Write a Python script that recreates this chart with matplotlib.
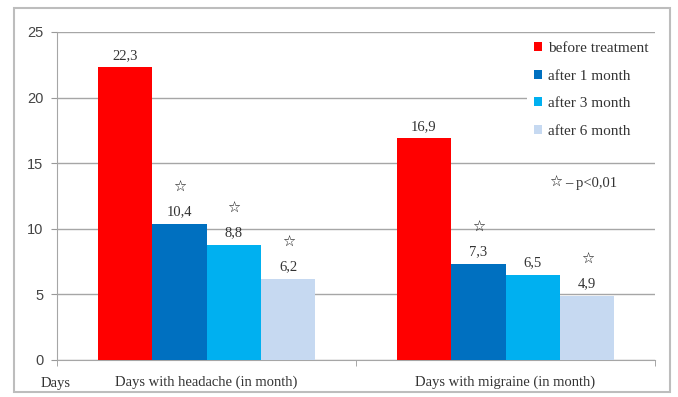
import numpy as np
import matplotlib.pyplot as plt
from matplotlib.patches import Rectangle

# data
categories = ['Days with headache (in month)', 'Days with migraine (in month)']
series = ['before treatment', 'after 1 month', 'after 3 month', 'after 6 month']
before = [22.3, 16.9]
after1 = [10.4, 7.3]
after3 = [8.8, 6.5]
after6 = [6.2, 4.9]
# star = p<0,01 over that bar
signif1 = [True, True]
signif3 = [True, False]
signif6 = [True, True]

colors = ['#FF0000', '#0070C0', '#00B0F0', '#C6D9F1']
values = [before, after1, after3, after6]
stars = [[False, False], signif1, signif3, signif6]

SERIF = 'Liberation Serif'
SANS = 'Liberation Sans'

fig = plt.figure(figsize=(6.78, 3.97), dpi=100)
ax = fig.add_axes([0.0841, 0.0932, 0.882, 0.8262])

# outer frame like the source image
fig.patches.append(Rectangle((0.02, 0.013), 0.968, 0.966, transform=fig.transFigure,
                             fill=False, edgecolor='#BDBDBD', lw=1.5))

x = np.arange(len(categories))
w = 0.182
for i, (vals, col, name) in enumerate(zip(values, colors, series)):
    pos = x + (i - 1.5) * w
    bars = ax.bar(pos, vals, w, color=col, label=name, zorder=3)
    for b, v, s in zip(bars, vals, stars[i]):
        xc = b.get_x() + b.get_width() / 2
        ax.annotate(f'{v:.1f}'.replace('.', ','), (xc, v), xytext=(0, 4),
                    textcoords='offset points', ha='center', va='bottom',
                    fontsize=10.5, family=SERIF, color='#333333')
        if s:
            ax.annotate('\u2606', (xc, v), xytext=(0, 21),
                        textcoords='offset points', ha='center', va='bottom',
                        fontsize=10.5, fontweight='bold', family='DejaVu Sans',
                        color='#111111')

ax.set_xlim(-0.5, 1.5)
ax.set_ylim(0, 25)
ax.set_yticks(range(0, 26, 5))
ax.set_xticks(x)
ax.set_xticklabels(categories, family=SERIF, fontsize=10.5, color='#333333')
ax.set_xticks([-0.5, 0.5, 1.5], minor=True)
ax.tick_params(axis='x', which='major', length=0, pad=11)
ax.tick_params(axis='x', which='minor', length=4, color='#999999')
ax.tick_params(axis='y', length=4, color='#999999', labelsize=10.5, labelcolor='#444444', pad=6)
for lab in ax.get_yticklabels():
    lab.set_family(SANS)

ax.grid(axis='y', color='#A6A6A6', lw=1, zorder=0)
for sp in ['top', 'right']:
    ax.spines[sp].set_visible(False)
ax.spines['left'].set_color('#A6A6A6')
ax.spines['bottom'].set_color('#A6A6A6')

leg = ax.legend(loc='upper right', bbox_to_anchor=(1.0, 0.99), borderaxespad=0,
                frameon=True, prop={'family': SERIF, 'size': 11},
                handlelength=0.55, handleheight=0.55, handletextpad=0.35,
                labelspacing=0.95, borderpad=0.45, fancybox=False)
leg.get_frame().set_edgecolor('none')
leg.get_frame().set_facecolor('white')
leg.get_frame().set_alpha(1)
leg.set_zorder(5)
for t in leg.get_texts():
    t.set_color('#333333')

fig.text(0.81, 0.54, '\u2606', family='DejaVu Sans', fontsize=10.5, fontweight='bold',
         color='#111111', ha='left', va='center')
fig.text(0.834, 0.537, '\u2013 p<0,01', family=SERIF, fontsize=10.5, color='#333333',
         ha='left', va='center')
fig.text(0.06, 0.033, 'Days', family=SERIF, fontsize=10.5, color='#333333',
         ha='left', va='center')

fig.savefig('out.png', dpi=100)
